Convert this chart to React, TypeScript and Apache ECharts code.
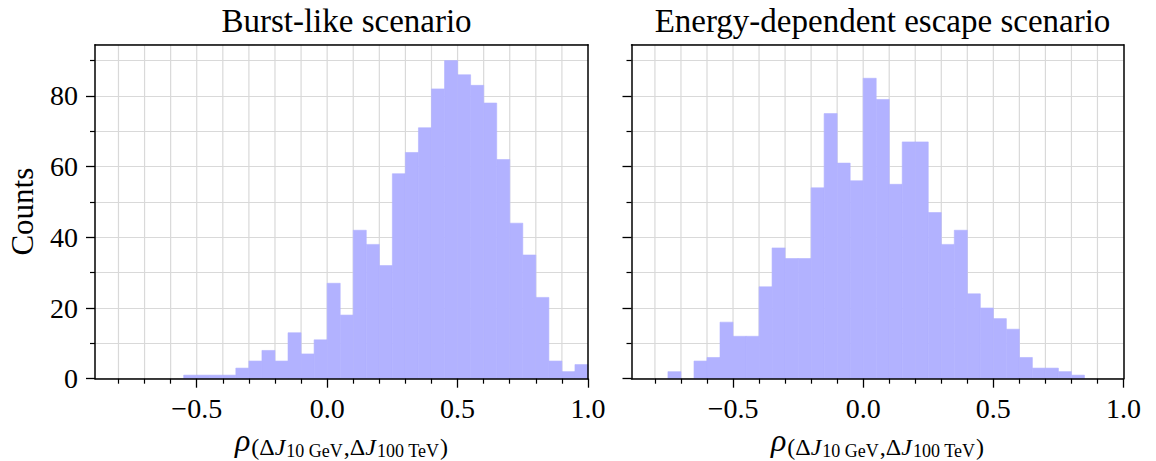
import React, { useEffect, useRef } from "react";
import * as echarts from "echarts";

// Histogram bin edges (shared by both panels)
const binEdges = [
  -0.75, -0.7, -0.65, -0.6, -0.55, -0.5, -0.45, -0.4, -0.35, -0.3, -0.25, -0.2,
  -0.15, -0.1, -0.05, 0.0, 0.05, 0.1, 0.15, 0.2, 0.25, 0.3, 0.35, 0.4, 0.45, 0.5,
  0.55, 0.6, 0.65, 0.7, 0.75, 0.8, 0.85, 0.9, 0.95, 1.0,
];

// Counts per bin, left panel
const burstCounts = [
  0, 0, 0, 0, 1, 1, 1, 1, 3, 5, 8, 5, 13, 7, 11, 27, 18, 42, 38, 32, 58, 64, 71,
  82, 90, 86, 83, 78, 62, 44, 35, 23, 5, 2, 4,
];

// Counts per bin, right panel
const escapeCounts = [
  2, 0, 5, 6, 16, 12, 12, 26, 37, 34, 34, 54, 75, 61, 56, 85, 79, 55, 67, 67, 47,
  38, 42, 24, 20, 17, 14, 6, 3, 3, 2, 1, 0, 0, 0,
];

const panelTitles = ["Burst-like scenario", "Energy-dependent escape scenario"];
const xMajorTicks = [-0.5, 0.0, 0.5, 1.0];
const xMinorTicks = [-0.8, -0.7, -0.6, -0.4, -0.3, -0.2, -0.1, 0.1, 0.2, 0.3, 0.4, 0.6, 0.7, 0.8, 0.9];
const xGridValues = [-0.8, -0.7, -0.6, -0.5, -0.4, -0.3, -0.2, -0.1, 0.0, 0.1, 0.2, 0.3, 0.4, 0.5, 0.6, 0.7, 0.8, 0.9];
const yMajorTicks = [0, 20, 40, 60, 80];
const yMinorTicks = [10, 30, 50, 70, 90];
const X_MIN = -0.89;
const X_MAX = 1.0;
const Y_MAX = 94.5;

const FONT = "'Liberation Serif', 'DejaVu Serif', serif";
const BAR = "#b2b2ff";
const GRID = "#d9d9d9";

const GRIDS = [
  { left: 95, top: 44.7, width: 493, height: 334 },
  { left: 631.5, top: 44.7, width: 492, height: 334 },
];

function fmtX(v: number) {
  const s = Math.abs(v).toFixed(1);
  return v < -1e-9 ? "\u2212" + s : s;
}

export default function App() {
  const ref = useRef<HTMLDivElement>(null);
  useEffect(() => {
    if (!ref.current) return;
    const chart = echarts.init(ref.current, null, { renderer: "svg" });
    const xAxis: any[] = [];
    const yAxis: any[] = [];
    const series: any[] = [];
    const graphic: any[] = [];
    const title: any[] = [];
    const lineStyle = { color: "#000", width: 1.5 };
    [burstCounts, escapeCounts].forEach((counts, p) => {
      const xi = xAxis.length;
      const yi = yAxis.length;
      xAxis.push({
        gridIndex: p, type: "value", min: X_MIN, max: X_MAX, position: "bottom", z: 10,
        axisLine: { show: true, onZero: false, lineStyle },
        axisTick: { show: true, customValues: xMajorTicks, length: 9, lineStyle: { color: "#000", width: 1.3 } },
        axisLabel: {
          show: true, customValues: xMajorTicks, margin: 16, formatter: (v: number) => fmtX(v),
          fontFamily: FONT, fontSize: 28, color: "#000",
        },
        splitLine: { show: false },
      });
      xAxis.push({
        gridIndex: p, type: "value", min: X_MIN, max: X_MAX, position: "bottom", z: 10,
        axisLine: { show: false, onZero: false },
        axisTick: { show: true, customValues: xMinorTicks, length: 5, lineStyle: { color: "#000", width: 1.2 } },
        axisLabel: { show: false },
        splitLine: { show: false },
      });
      xAxis.push({
        gridIndex: p, type: "value", min: X_MIN, max: X_MAX, position: "top", z: 10,
        axisLine: { show: true, onZero: false, lineStyle },
        axisTick: { show: false }, axisLabel: { show: false }, splitLine: { show: false },
      });
      yAxis.push({
        gridIndex: p, type: "value", min: 0, max: Y_MAX, interval: 10, position: "left", z: 0,
        axisLine: { show: false }, axisTick: { show: false }, axisLabel: { show: false },
        splitLine: { show: true, lineStyle: { color: GRID, width: 1.2 } },
      });
      yAxis.push({
        gridIndex: p, type: "value", min: 0, max: Y_MAX, position: "left", z: 10,
        axisLine: { show: true, onZero: false, lineStyle },
        axisTick: { show: true, customValues: yMajorTicks, length: 9, lineStyle: { color: "#000", width: 1.3 } },
        axisLabel: {
          show: p === 0, customValues: yMajorTicks, margin: 17,
          fontFamily: FONT, fontSize: 28, color: "#000",
        },
        splitLine: { show: false },
      });
      yAxis.push({
        gridIndex: p, type: "value", min: 0, max: Y_MAX, position: "left", z: 10,
        axisLine: { show: false, onZero: false },
        axisTick: { show: true, customValues: yMinorTicks, length: 5, lineStyle: { color: "#000", width: 1.2 } },
        axisLabel: { show: false }, splitLine: { show: false },
      });
      yAxis.push({
        gridIndex: p, type: "value", min: 0, max: Y_MAX, position: "right", z: 10,
        axisLine: { show: true, onZero: false, lineStyle },
        axisTick: { show: false }, axisLabel: { show: false }, splitLine: { show: false },
      });
      series.push({
        type: "custom", xAxisIndex: xi, yAxisIndex: yi, z: 1, silent: true,
        data: xGridValues.map((v) => [v, 0]),
        encode: { x: 0, y: 1 },
        renderItem: (params: any, api: any) => {
          const pt = api.coord([api.value(0), 0]);
          const cs = params.coordSys;
          return {
            type: "line",
            shape: { x1: pt[0], y1: cs.y, x2: pt[0], y2: cs.y + cs.height },
            style: { stroke: GRID, lineWidth: 1.2 },
          };
        },
      });
      series.push({
        type: "custom", xAxisIndex: xi, yAxisIndex: yi, z: 2, silent: true,
        data: counts.map((c, i) => [binEdges[i], binEdges[i + 1], c]),
        encode: { x: [0, 1], y: 2 },
        renderItem: (params: any, api: any) => {
          const c = api.value(2);
          if (!c) return null;
          const a = api.coord([api.value(0), c]);
          const b = api.coord([api.value(1), 0]);
          return {
            type: "rect",
            shape: { x: a[0], y: a[1], width: b[0] - a[0], height: b[1] - a[1] },
            style: { fill: BAR, stroke: BAR, lineWidth: 0.6 },
          };
        },
      });
      const g = GRIDS[p];
      const cx = g.left + g.width / 2;
      title.push({
        text: panelTitles[p], left: cx, top: -1, textAlign: "center",
        textStyle: { fontFamily: FONT, fontSize: 33, fontWeight: "normal", color: "#000" },
      });
      graphic.push({
        type: "text", x: cx, y: 424,
        style: {
          text: "{r|\u03c1}{s|(\u0394}{si|J}{ss|10 GeV}{s|,\u0394}{si|J}{ss|100 TeV}{s|)}",
          align: "center", verticalAlign: "top", fill: "#000",
          rich: {
            r: { fontFamily: FONT, fontSize: 32, fontStyle: "italic", verticalAlign: "top", padding: [0, 1, 0, 0] },
            s: { fontFamily: FONT, fontSize: 24, verticalAlign: "top", padding: [11, 0, 0, 0] },
            si: { fontFamily: FONT, fontSize: 24, fontStyle: "italic", verticalAlign: "top", padding: [11, 1, 0, 0] },
            ss: { fontFamily: FONT, fontSize: 18, verticalAlign: "top", padding: [18, 1, 0, 0] },
          },
        },
      });
    });
    graphic.push({
      type: "text", x: 22, y: 211.7, rotation: Math.PI / 2,
      style: { text: "Counts", fontFamily: FONT, fontSize: 31, align: "center", verticalAlign: "middle", fill: "#000" },
    });
    chart.setOption({
      animation: false,
      backgroundColor: "#fff",
      title,
      grid: GRIDS.map((g) => ({ ...g, containLabel: false, show: false })),
      xAxis,
      yAxis,
      series,
      graphic,
    });
    return () => chart.dispose();
  }, []);
  return <div ref={ref} style={{ position: "absolute", left: 0, top: 0, width: 1156, height: 461 }} />;
}
